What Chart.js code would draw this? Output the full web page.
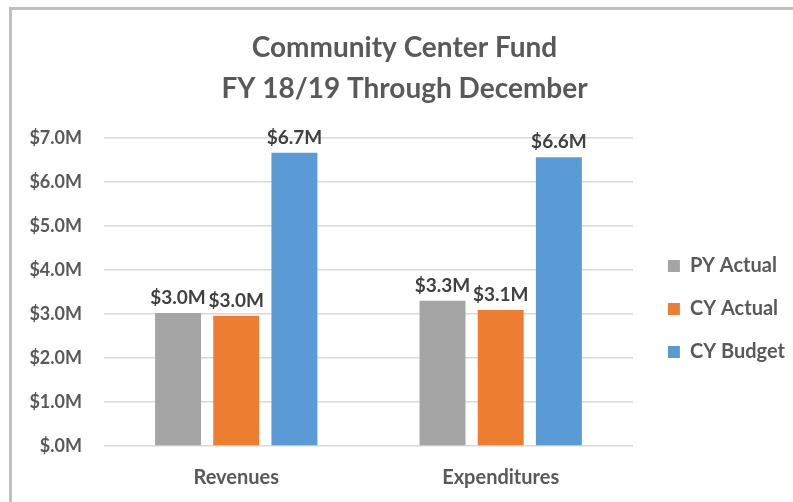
<!DOCTYPE html>
<html>
<head>
<meta charset="utf-8">
<script src="https://cdn.jsdelivr.net/npm/chart.js@4/dist/chart.umd.min.js"></script>
<style>
    html, body { margin: 0; padding: 0; background: #fff; }
    #wrap { position: relative; width: 793px; height: 502px; overflow: hidden; }
    #frame { position: absolute; left: 9px; top: 7px; width: 900px; height: 600px;
             border-top: 3px solid #bfbfbf; border-left: 3px solid #bfbfbf; }
    #chart { position: absolute; left: 0; top: 0; }
</style>
</head>
<body>
<div id="wrap">
    <div id="frame"></div>
    <canvas id="chart" width="793" height="502"></canvas>
</div>
<script>
const categories = ['Revenues', 'Expenditures']
const series_names = ['PY Actual', 'CY Actual', 'CY Budget']
const py_actual = [3.02, 3.30]
const cy_actual = [2.96, 3.09]
const cy_budget = [6.66, 6.56]
const y_ticks = [0, 1, 2, 3, 4, 5, 6, 7]
const colors = ['#a5a5a5', '#ed7d31', '#5b9bd5']

const text_color = '#595959'
const font_family = 'Lato, "Noto Sans", sans-serif'

function money(v) {
    return v === 0 ? '$.0M' : '$' + v.toFixed(1) + 'M'
}

// values written above each bar
const bar_labels = {
    id: 'barLabels',
    afterDatasetsDraw(chart) {
        const ctx = chart.ctx
        ctx.save()
        ctx.font = 'bold 19px ' + font_family
        ctx.fillStyle = '#404040'
        ctx.textAlign = 'center'
        ctx.textBaseline = 'alphabetic'
        chart.data.datasets.forEach(function (ds, i) {
            chart.getDatasetMeta(i).data.forEach(function (bar, j) {
                ctx.fillText(money(ds.data[j]), bar.x, bar.y - 9)
            })
        })
        ctx.restore()
    }
}

// nudge the legend a bit away from the plot, like the original
const legend_gap = {
    id: 'legendGap',
    afterLayout(chart) {
        chart.legend.left += 12
        chart.legend.right += 12
    }
}

const all_series = [py_actual, cy_actual, cy_budget]

var ctx = document.getElementById('chart').getContext('2d')
var chart = new Chart(ctx, {
    type: 'bar',
    data: {
        labels: categories,
        datasets: series_names.map(function (name, i) {
            return {
                label: name,
                data: all_series[i],
                backgroundColor: colors[i],
                borderWidth: 0,
                categoryPercentage: 0.66,
                barPercentage: 0.79
            }
        })
    },
    options: {
        responsive: false,
        animation: false,
        layout: { padding: { left: 26, right: 10, top: 0, bottom: 0 } },
        plugins: {
            title: {
                display: true,
                text: ['Community Center Fund', 'FY 18/19 Through December'],
                color: text_color,
                font: { family: font_family, size: 28, weight: 'bold', lineHeight: 1.46 },
                padding: { top: 28, bottom: 28 }
            },
            legend: {
                position: 'right',
                title: {
                    // empty title, only used to push the items down
                    display: true,
                    text: '',
                    font: { size: 10, lineHeight: 1 },
                    padding: { top: 106, bottom: 0 }
                },
                labels: {
                    color: text_color,
                    font: { family: font_family, size: 20, weight: 'bold' },
                    boxWidth: 12,
                    boxHeight: 12,
                    padding: 23
                }
            },
            tooltip: { enabled: false }
        },
        scales: {
            x: {
                grid: { display: false, drawTicks: false },
                border: { display: false },
                ticks: {
                    color: text_color,
                    font: { family: font_family, size: 20, weight: 'bold' },
                    padding: 20
                },
                afterFit: function (scale) { scale.height = 56 }
            },
            y: {
                min: 0,
                max: 7,
                afterBuildTicks: function (scale) {
                    scale.ticks = y_ticks.map(function (v) { return { value: v } })
                },
                grid: { color: '#d9d9d9', lineWidth: 1.5, drawTicks: false },
                border: { display: false },
                ticks: {
                    color: text_color,
                    font: { family: font_family, size: 18, weight: 'bold' },
                    padding: 22,
                    callback: function (v) { return money(v) }
                },
                afterFit: function (scale) { scale.width = 78 }
            }
        }
    },
    plugins: [bar_labels, legend_gap]
})
</script>
</body>
</html>
